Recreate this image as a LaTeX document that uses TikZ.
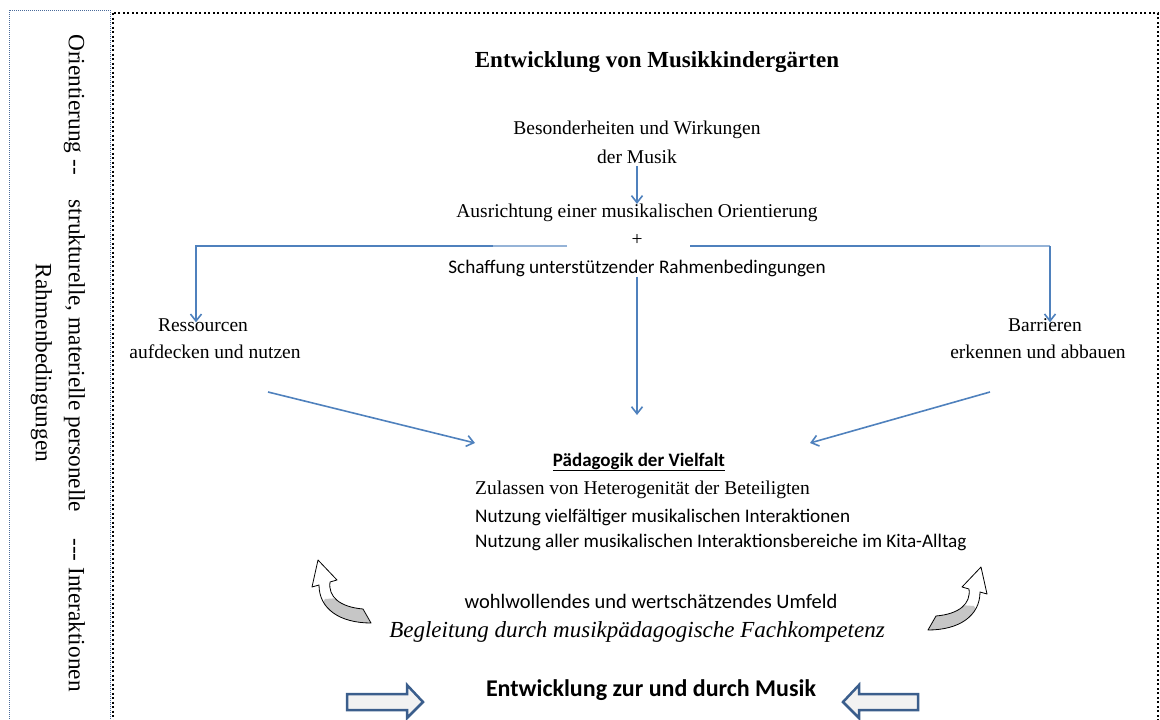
\documentclass[tikz,border=0pt]{standalone}
\usepackage{fontspec}
\setmainfont{Liberation Serif}
\setsansfont{Carlito}
\usetikzlibrary{arrows.meta,calc}
\definecolor{lineblue}{HTML}{4F81BD}
\definecolor{lightblue}{HTML}{95B3D7}
\definecolor{blockblue}{HTML}{3B5E8C}
\definecolor{blockfill}{HTML}{F2F2F2}
\definecolor{leftdot}{HTML}{4A6A9A}
\tikzset{
  ser/.style={inner sep=0pt, font=\fontsize{19.5}{23}\selectfont},
  serbig/.style={inner sep=0pt, font=\fontsize{23}{27}\selectfont\bfseries},
  serit/.style={inner sep=0pt, font=\fontsize{23}{27}\selectfont\itshape},
  sans/.style={inner sep=0pt, font=\sffamily\fontsize{19.2}{23}\selectfont},
  sanswide/.style={inner sep=0pt, font=\sffamily\fontsize{20.5}{24}\selectfont},
  sansb/.style={inner sep=0pt, font=\sffamily\bfseries\fontsize{19}{23}\selectfont},
  sansbig/.style={inner sep=0pt, font=\sffamily\bfseries\fontsize{24}{28}\selectfont},
  side/.style={inner sep=0pt, font=\fontsize{23.3}{33}\selectfont, align=center, rotate=-90},
  conn/.style={draw=lineblue, line width=1.6pt},
  lightconn/.style={draw=lightblue, line width=1.6pt},
  arr/.style={conn, -{Straight Barb[length=7pt,width=11pt]}},
  blockarrow/.style={draw=blockblue, fill=blockfill, line width=2.5pt, line join=miter},
  curl/.pic={
    \begin{scope}
      \clip (-25,-33) -- (-6,-13) -- (-13,-11) .. controls (-15,4) and (-3,14) .. (20,16)
        -- (28,30) .. controls (-3,30) and (-24,16) .. (-24,-8) -- (-31,-6) -- cycle;
      \fill[white] (-40,-40) rectangle (40,40);
      \fill[gray!45] (-18,6) -- (40,2) -- (40,40) -- (-40,40) -- cycle;
    \end{scope}
    \draw[black, line width=0.8pt, line join=round]
      (-25,-33) -- (-6,-13) -- (-13,-11) .. controls (-15,4) and (-3,14) .. (20,16)
      -- (28,30) .. controls (-3,30) and (-24,16) .. (-24,-8) -- (-31,-6) -- cycle;
  }
}
\begin{document}
\begin{tikzpicture}[x=1pt,y=-1pt]
\useasboundingbox (0,0) rectangle (1160,720);
% frames
\draw[leftdot, line width=1pt, dash pattern=on 1pt off 1pt] (9,10) rectangle (110,740);
\draw[black, line width=2pt, dash pattern=on 2pt off 2.5pt] (113,13) rectangle (1158,740);
% side text
\node[side] (side) at (58,363) {Orientierung -{}-\hspace{25pt}strukturelle, materielle personelle\hspace{26pt}-{}-{}- Interaktionen\\Rahmenbedingungen};
% texts
\node[serbig] (title) at (657,62) {Entwicklung\ von\ Musikkindergärten};
\node[ser] (bes1) at (637,130) {Besonderheiten und Wirkungen};
\node[ser] (bes2) at (637,157) {der Musik};
\node[ser] (aus) at (637,213) {Ausrichtung einer musikalischen Orientierung};
\node[ser] (plus) at (637,240) {+};
\node[sans] (schaff) at (637,268) {Schaffung unterstützender Rahmenbedingungen};
\node[ser] (res1) at (203,325) {Ressourcen};
\node[ser] (res2) at (215,352) {aufdecken und nutzen};
\node[ser] (bar1) at (1045,325) {Barrieren};
\node[ser] (bar2) at (1038,352) {erkennen und abbauen};
\node[sansb] (paed) at (639,462) {\underline{Pädagogik der Vielfalt}};
\node[ser, anchor=west] (zul) at (475,490) {Zulassen von Heterogenität der Beteiligten};
\node[sans, anchor=west] (nutz1) at (475,517) {Nutzung vielfältiger musikalischen Interaktionen};
\node[sans, anchor=west] (nutz2) at (475,542) {Nutzung aller musikalischen Interaktionsbereiche im Kita-Alltag};
\node[sanswide] (wohl) at (651,601) {wohlwollendes und wertschätzendes Umfeld};
\node[serit] (begl) at (637,632) {Begleitung durch musikpädagogische Fachkompetenz};
\node[sansbig] (entw) at (651,690) {Entwicklung zur und durch Musik};
% connector points
\coordinate (hlL) at (567,246);
\coordinate (hlLm) at (493,246);
\coordinate (hlR) at (690,246);
\coordinate (hlRm) at (980,246);
\coordinate (hlRc) at (1050,246);
\coordinate (pm) at (637,415);
\coordinate (dlA) at (268,392);
\coordinate (dlB) at (475,443);
\coordinate (drA) at (990,392);
\coordinate (drB) at (810,443);
% connectors
\draw[arr] ([yshift=-2pt]bes2.south) -- (aus.north);
\draw[lightconn] (hlL) -- (hlLm);
\draw[arr] (hlLm) -| ([xshift=-7pt,yshift=-4pt]res1.north);
\draw[conn] (hlR) -- (hlRm);
\draw[lightconn] (hlRm) -- (hlRc);
\draw[arr] (hlRc) -- ([xshift=5pt,yshift=-4pt]bar1.north);
\draw[arr] (schaff.south) -- (pm);
\draw[arr] (dlA) -- (dlB);
\draw[arr] (drA) -- (drB);
% curled arrows
\pic at (343,593) {curl};
\pic[xscale=-1] at (956,600) {curl};
% block arrows
\draw[blockarrow] (347,694) -- (407,694) -- (407,685) -- (423,702) -- (407,718) -- (407,710) -- (347,710) -- cycle;
\draw[blockarrow] (918,694) -- (859,694) -- (859,685) -- (843,702) -- (859,718) -- (859,710) -- (918,710) -- cycle;
\end{tikzpicture}
\end{document}
